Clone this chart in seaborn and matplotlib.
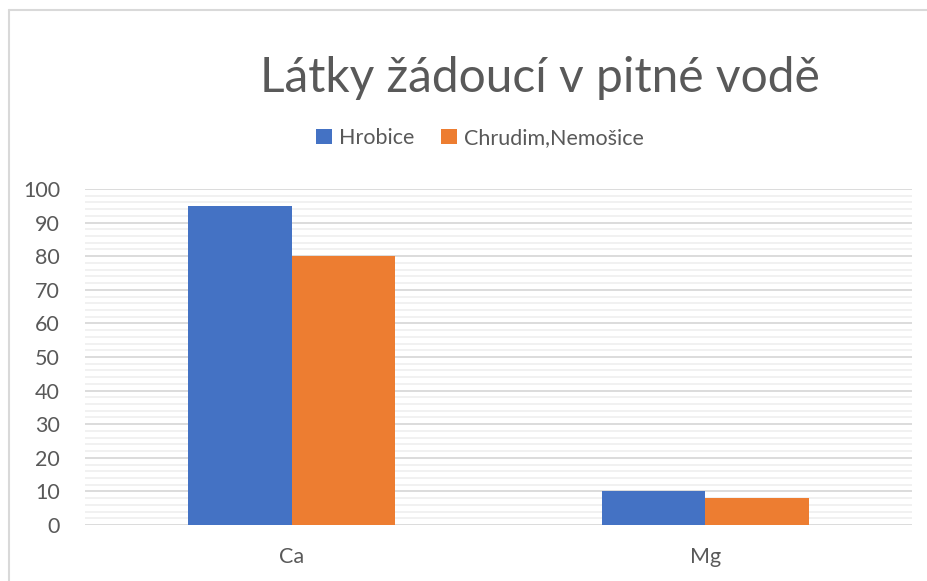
import matplotlib
matplotlib.use("Agg")
import matplotlib.pyplot as plt
from matplotlib.lines import Line2D
from matplotlib.ticker import MultipleLocator
import seaborn as sns
import pandas as pd

categories = ["Ca", "Mg"]
series_names = ["Hrobice", "Chrudim,Nemošice"]
hrobice = [95, 10]
chrudim = [80, 8]
colors = ["#4472C4", "#ED7D31"]
title = "Látky žádoucí v pitné vodě"

df = pd.DataFrame({
    "cat": categories * 2,
    "series": [series_names[0]] * len(categories) + [series_names[1]] * len(categories),
    "value": hrobice + chrudim,
})

sns.set_theme(style="white")
plt.rcParams["font.family"] = ["Lato", "DejaVu Sans"]
text_color = "#595959"

fig = plt.figure(figsize=(9.27, 5.81), dpi=100)
ax = fig.add_axes([85 / 927, 1 - 525 / 581, (912 - 85) / 927, (525 - 189) / 581])

sns.barplot(data=df, x="cat", y="value", hue="series", palette=colors,
            width=0.5, ax=ax, saturation=1, legend=True, edgecolor="none")

ax.set_ylim(0, 100)
ax.set_xlim(-0.5, 1.5)
ax.yaxis.set_major_locator(MultipleLocator(10))
ax.yaxis.set_minor_locator(MultipleLocator(2))
ax.grid(which="minor", axis="y", color="#f0f0f0", linewidth=1.3, zorder=0)
ax.grid(which="major", axis="y", color="#d9d9d9", linewidth=1.3, zorder=0)
ax.set_axisbelow(True)
for s in ax.spines.values():
    s.set_visible(False)
ax.tick_params(axis="both", which="both", length=0, labelsize=15.5, colors=text_color)
ax.tick_params(axis="y", pad=18)
ax.tick_params(axis="x", pad=16)
ax.set_xlabel("")
ax.set_ylabel("")

leg = ax.legend(loc="center", bbox_to_anchor=(480 / 927, 1 - 138 / 581),
                bbox_transform=fig.transFigure, ncol=2, frameon=False,
                fontsize=15.5, handlelength=0.75, handleheight=0.75,
                handletextpad=0.35, columnspacing=1.2)
for t in leg.get_texts():
    t.set_color(text_color)

fig.text(540 / 927, 1 - 78 / 581, title, ha="center", va="center",
         fontsize=34.5, color=text_color)

# outer chart frame
fig.add_artist(Line2D([9 / 927, 9 / 927], [0, 1 - 10 / 581],
                      transform=fig.transFigure, color="#d9d9d9", linewidth=1.5))
fig.add_artist(Line2D([9 / 927, 1], [1 - 10 / 581, 1 - 10 / 581],
                      transform=fig.transFigure, color="#d9d9d9", linewidth=1.5))

fig.savefig("out.png", dpi=100)
